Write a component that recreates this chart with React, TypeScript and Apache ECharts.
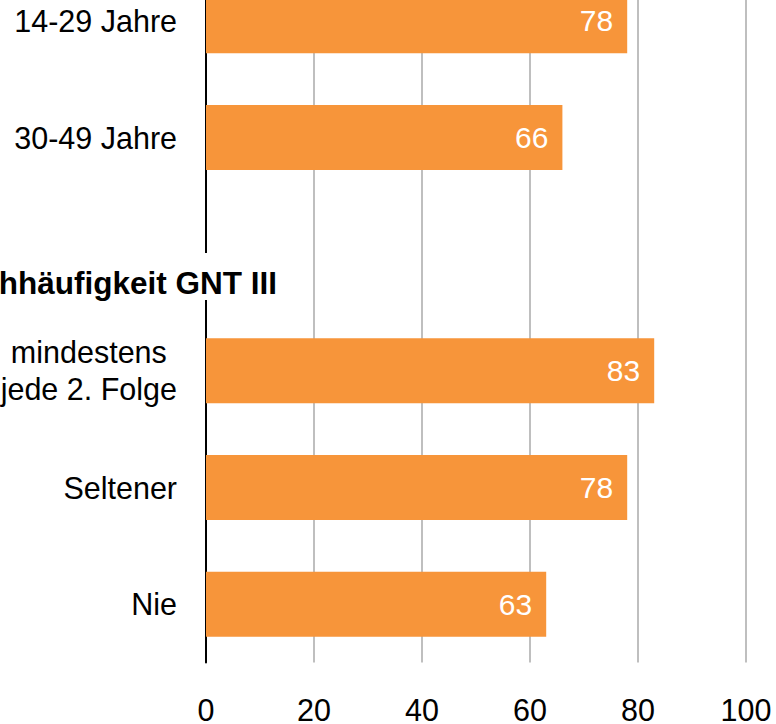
import React, { useEffect, useRef } from "react";
import * as echarts from "echarts";

const categories = ["14-29 Jahre", "30-49 Jahre", "", "mindestens\njede 2. Folge", "Seltener", "Nie"];
const values: (number | null)[] = [78, 66, null, 83, 78, 63];
const groupHeader = "Sehhäufigkeit GNT III";
const xTicks = [0, 20, 40, 60, 80, 100];

const FONT = "Liberation Sans, Arial, sans-serif";
const OFFSET = 38; // chart canvas starts above the visible page (reference is cropped)

export default function App() {
  const ref = useRef<HTMLDivElement>(null);
  useEffect(() => {
    if (!ref.current) return;
    const chart = echarts.init(ref.current, null, { renderer: "svg" });
    chart.setOption({
      animation: false,
      backgroundColor: "#ffffff",
      grid: { left: 206, right: 30, top: 0.5, bottom: 61.5, containLabel: false, outerBoundsMode: "none" },
      xAxis: {
        type: "value",
        min: xTicks[0],
        max: xTicks[xTicks.length - 1],
        interval: 20,
        axisLine: { show: false },
        axisTick: { show: false },
        splitLine: { show: true, lineStyle: { color: "#bfbfbf", width: 2 } },
        axisLabel: { color: "#000", fontSize: 30.5, lineHeight: 24, fontFamily: FONT, margin: 35 },
      },
      yAxis: {
        type: "category",
        inverse: true,
        data: categories,
        axisLine: { show: true, lineStyle: { color: "#000", width: 2 } },
        axisTick: { show: false },
        axisLabel: {
          color: "#000",
          fontSize: 30.5,
          fontFamily: FONT,
          margin: 29,
          lineHeight: 37,
          formatter: (v: string) =>
            v
              .split("\n")
              .map((s) => "{c|" + s + "}")
              .join("\n"),
          rich: { c: { align: "center", fontSize: 30.5, fontFamily: FONT, color: "#000", lineHeight: 37 } },
        },
      },
      series: [
        {
          type: "bar",
          data: values,
          barWidth: 65,
          itemStyle: { color: "#F7953A" },
          label: {
            show: true,
            position: "insideRight",
            distance: 14,
            color: "#fff",
            fontSize: 30,
            fontFamily: FONT,
          },
        },
      ],
      graphic: [
        {
          type: "rect",
          z: 99,
          shape: { x: 0, y: 253 + OFFSET, width: 282, height: 47 },
          style: { fill: "#fff" },
        },
        {
          type: "text",
          x: 277,
          y: 283 + OFFSET,
          z: 100,
          style: {
            text: groupHeader,
            align: "right",
            verticalAlign: "middle",
            fontSize: 31.5,
            fontWeight: "bold",
            fontFamily: FONT,
            fill: "#000",
          },
        },
      ],
    });
    return () => chart.dispose();
  }, []);
  return (
    <div
      ref={ref}
      style={{ position: "fixed", left: 0, top: -OFFSET, width: 776, height: 724 + OFFSET }}
    />
  );
}
